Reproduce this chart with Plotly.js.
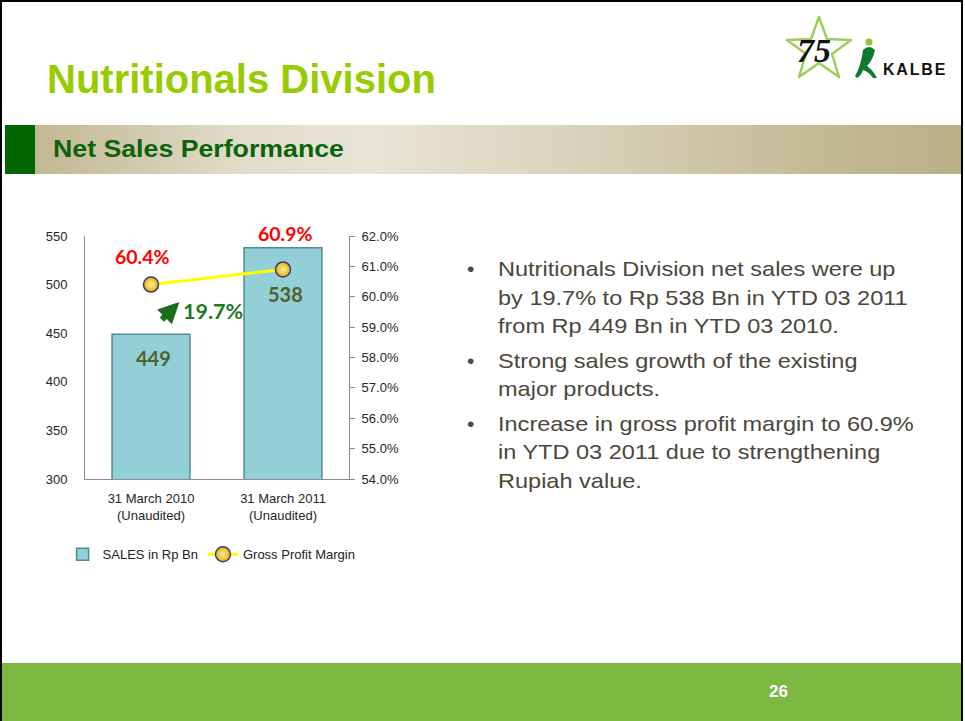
<!DOCTYPE html>
<html>
<head>
<meta charset="utf-8">
<script src="https://cdn.plot.ly/plotly-3.0.1.min.js"></script>
<style>
  html, body { margin:0; padding:0; background:#fff; }
  #slide { position:relative; width:963px; height:721px; box-sizing:border-box;
           border:2px solid #000; border-bottom:none; overflow:hidden; background:#fff;
           font-family:"Liberation Sans", Arial, sans-serif; }
  #title { position:absolute; left:45px; top:55px; font-size:40px; font-weight:bold; color:#99cc00; white-space:nowrap; }
  #band { position:absolute; left:3px; top:123px; width:960px; height:49px;
          background:linear-gradient(90deg,#bdb28b 0%,#e2dccb 25%,#e8e4d6 38%,#d9d2bb 60%,#c4b995 85%,#bbaf88 100%); }
  #band .strip { position:absolute; left:0; top:0; width:30px; height:49px; background:#006600; }
  #band .txt { position:absolute; left:48px; top:10px; font-size:24.5px; font-weight:bold; color:#0a640a; white-space:nowrap;
               transform:scaleX(1.09); transform-origin:0 50%; }
  #footer { position:absolute; left:0; top:661px; width:963px; height:60px; background:#7db843; }
  #footer .num { position:absolute; left:767px; top:19px; font-size:17px; font-weight:bold; color:#fff; }
  #bullets { position:absolute; left:464px; top:253px; width:480px; font-size:21px; line-height:28.7px; color:#4a473b; }
  #bullets .b { position:relative; padding-left:32px; margin-bottom:5.5px; white-space:nowrap; }
  #bullets .b .t { display:inline-block; transform:scaleX(1.12); transform-origin:0 50%; }
  #bullets .b::before { content:"\2022"; position:absolute; left:1px; top:0; }
  #logo { position:absolute; left:775px; top:10px; }
  #chart { position:absolute; left:-2px; top:-2px; width:965px; height:721px; }
</style>
</head>
<body>
<div id="slide">
  <div id="title">Nutritionals Division</div>
  <svg id="logo" width="180" height="70" viewBox="0 0 180 70">
    <polygon points="42,5 50,27 74,28 55,42 62,65 42,51 22,65 29,42 10,28 34,27" fill="none" stroke="#9ccf5a" stroke-width="2.5" stroke-linejoin="round"/>
    <text x="20" y="50" font-family="Liberation Serif, serif" font-style="italic" font-weight="bold" font-size="34" fill="#111">75</text>
    <circle cx="92" cy="30" r="3.5" fill="#8cc63f"/>
    <path d="M86,38 q6,-6 12,0 q-2,10 -8,16 q6,4 10,12 l-4,0 q-4,-6 -10,-8 q-2,6 -6,8 l-2,-2 q6,-10 8,-26z" fill="#0e7a2e"/>
    <text x="106" y="63" font-family="Liberation Sans, Arial, sans-serif" font-weight="bold" font-size="16" letter-spacing="1.8" fill="#111">KALBE</text>
  </svg>
  <div id="band"><div class="strip"></div><div class="txt">Net Sales Performance</div></div>
  <div id="bullets">
    <div class="b"><span class="t">Nutritionals Division net sales were up<br>by 19.7% to Rp 538 Bn in YTD 03 2011<br>from Rp 449 Bn in YTD 03 2010.</span></div>
    <div class="b"><span class="t">Strong sales growth of the existing<br>major products.</span></div>
    <div class="b"><span class="t">Increase in gross profit margin to 60.9%<br>in YTD 03 2011 due to strengthening<br>Rupiah value.</span></div>
  </div>
  <div id="footer"><div class="num">26</div></div>
  <div id="chart"></div>
</div>
<script>
// ---- data ----
var categories = ['31 March 2010<br>(Unaudited)', '31 March 2011<br>(Unaudited)'];
var salesBn = [449, 538];
var grossMargin = [60.4, 60.9];
var marginLabels = ['60.4%', '60.9%'];
var salesLabels = ['449', '538'];
var growthLabel = '19.7%';
var seriesNames = ['SALES in Rp Bn', 'Gross Profit Margin'];

var tickFont = {family:'Liberation Sans, Arial, sans-serif', size:13, color:'#262626'};

var traces = [
  {
    type:'bar', name:seriesNames[0], x:categories, y:salesBn,
    marker:{color:'#93cfd7', line:{color:'#4f8b92', width:1.5}},
    hoverinfo:'skip'
  },
  {
    type:'scatter', mode:'lines+markers', name:seriesNames[1], x:categories, y:grossMargin, yaxis:'y2',
    line:{color:'#ffff00', width:3},
    marker:{size:15, color:'#e8ad00', gradient:{type:'radial', color:'#fff3a0'}, line:{color:'#3a3a80', width:1.5}},
    hoverinfo:'skip'
  }
];

var annotations = [];
var salesShift = [-24, -46];
for (var i = 0; i < categories.length; i++) {
  annotations.push({xref:'x', yref:'y', x:categories[i], y:salesBn[i], yshift:salesShift[i], xshift:2,
    text:'<b>'+salesLabels[i]+'</b>', showarrow:false,
    font:{family:'Lato, Open Sans, sans-serif', size:20, color:'#4f6228'}});
}
var marginShift = [[-9, 28], [2, 36]];
for (var j = 0; j < categories.length; j++) {
  annotations.push({xref:'x', yref:'y2', x:categories[j], y:grossMargin[j], xshift:marginShift[j][0], yshift:marginShift[j][1],
    text:'<b>'+marginLabels[j]+'</b>', showarrow:false,
    font:{family:'Lato, Open Sans, sans-serif', size:19.5, color:'#ff0000'}});
}
annotations.push({xref:'x', yref:'y', x:0.5, y:473, xshift:-4, text:'<b>'+growthLabel+'</b>', showarrow:false,
  font:{family:'Lato, Open Sans, sans-serif', size:21.5, color:'#1e7a1e'}});
annotations.push({xref:'x', yref:'y', x:0.215, y:482, text:'', showarrow:true, ax:-19, ay:19,
  arrowhead:2, arrowsize:0.7, arrowwidth:6, arrowcolor:'#1a6e1a'});

var layout = {
  width:965, height:721,
  margin:{l:85, r:616, t:236, b:242, pad:0},
  paper_bgcolor:'rgba(0,0,0,0)', plot_bgcolor:'rgba(0,0,0,0)',
  bargap:0.41,
  showlegend:true,
  legend:{orientation:'h', x:-0.085, xanchor:'left', y:-0.31, yanchor:'middle',
          font:{family:'Liberation Sans, Arial, sans-serif', size:13, color:'#222'}, itemwidth:30, tracegroupgap:0},
  xaxis:{type:'category', showline:true, linecolor:'#8c8c8c', linewidth:1, ticks:'', showgrid:false,
         tickfont:tickFont, ticklabelstandoff:7, zeroline:false},
  yaxis:{range:[300,550], dtick:50, showline:true, linecolor:'#8c8c8c', linewidth:1, ticks:'', showgrid:false,
         tickfont:tickFont, ticklabelstandoff:14, zeroline:false},
  yaxis2:{range:[54,62], dtick:1, overlaying:'y', side:'right', showline:true, linecolor:'#8c8c8c', linewidth:1,
          ticks:'outside', ticklen:5, tickcolor:'#8c8c8c', showgrid:false, tickformat:'.1f', ticksuffix:'%',
          tickfont:tickFont, ticklabelstandoff:4, zeroline:false},
  annotations:annotations
};

Plotly.newPlot('chart', traces, layout, {staticPlot:true, displayModeBar:false});
</script>
</body>
</html>
